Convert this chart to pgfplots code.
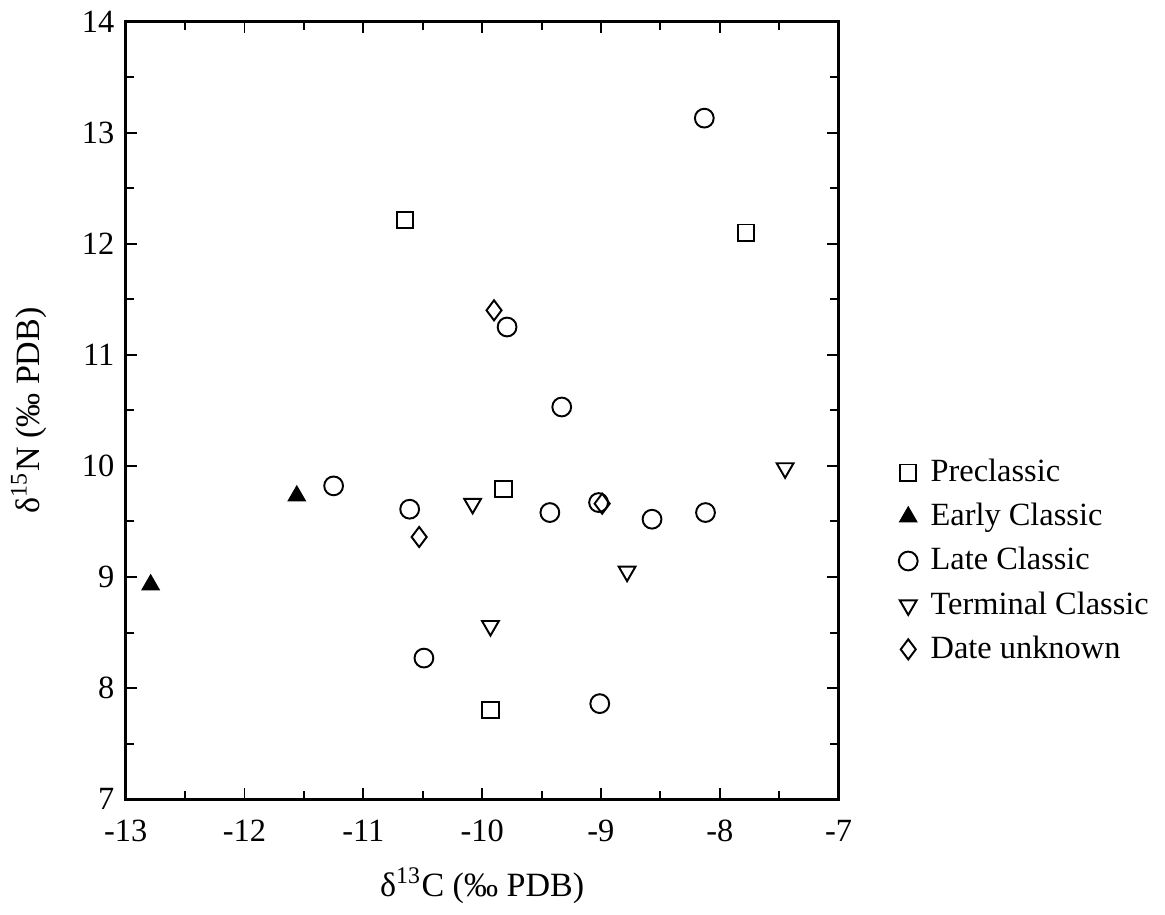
\documentclass[border=0pt]{standalone}
\usepackage{pgfplots}
\pgfplotsset{compat=1.18}
\usepackage{fontspec}
\setmainfont{Liberation Serif}
\begin{document}
\begin{tikzpicture}
\begin{axis}[
  width=220pt, height=240pt, scale only axis,
  xmin=-13, xmax=-7, ymin=7, ymax=14,
  xtick={-13,-12,...,-7}, ytick={7,8,...,14},
  minor x tick num=1, minor y tick num=1,
  tick align=inside, major tick length=3.5pt, minor tick length=2.5pt,
  axis line style={line width=0.9pt},
  tick style={line width=0.6pt, black},
  /pgf/number format/assume math mode=true,
  ticklabel style={font=\fontsize{10}{12}\selectfont},
  xticklabel style={yshift=-3pt},
  label style={font=\fontsize{10.5}{12}\selectfont},
  xlabel={δ\textsuperscript{13}C (‰ PDB)},
  ylabel={δ\textsuperscript{15}N (‰ PDB)},
  xlabel style={yshift=-1pt},
  ylabel style={yshift=4pt},
  legend style={draw=none, at={(1.07,0.455)}, anchor=north west,
    font=\fontsize{10}{12}\selectfont, row sep=1.2pt, column sep=2pt},
  legend cell align=left,
]
% Preclassic
\addplot[only marks, mark=square, mark size=2.5pt, line width=0.6pt] coordinates
 {(-10.65,12.21) (-7.78,12.10) (-9.82,9.79) (-9.93,7.80)};
% Early Classic
\addplot[only marks, mark=triangle*, mark size=3pt, fill=black] coordinates
 {(-11.56,9.73) (-12.79,8.93)};
% Late Classic
\addplot[only marks, mark=o, mark size=2.9pt, line width=0.6pt] coordinates
 {(-8.13,13.13) (-9.79,11.25) (-9.33,10.53) (-11.25,9.82) (-10.61,9.61)
  (-9.43,9.58) (-9.02,9.67) (-8.57,9.52) (-8.12,9.58) (-10.49,8.27) (-9.01,7.86)};
% Terminal Classic
\addplot[only marks, mark=triangle, mark size=3pt, line width=0.6pt, mark options={rotate=180}] coordinates
 {(-10.08,9.66) (-7.45,9.98) (-8.78,9.05) (-9.93,8.56)};
% Date unknown
\addplot[only marks, mark=diamond, mark size=3.1pt, line width=0.6pt] coordinates
 {(-9.90,11.40) (-10.53,9.36) (-8.99,9.66)};
\legend{Preclassic, Early Classic, Late Classic, Terminal Classic, Date unknown}
\end{axis}
\end{tikzpicture}
\end{document}
